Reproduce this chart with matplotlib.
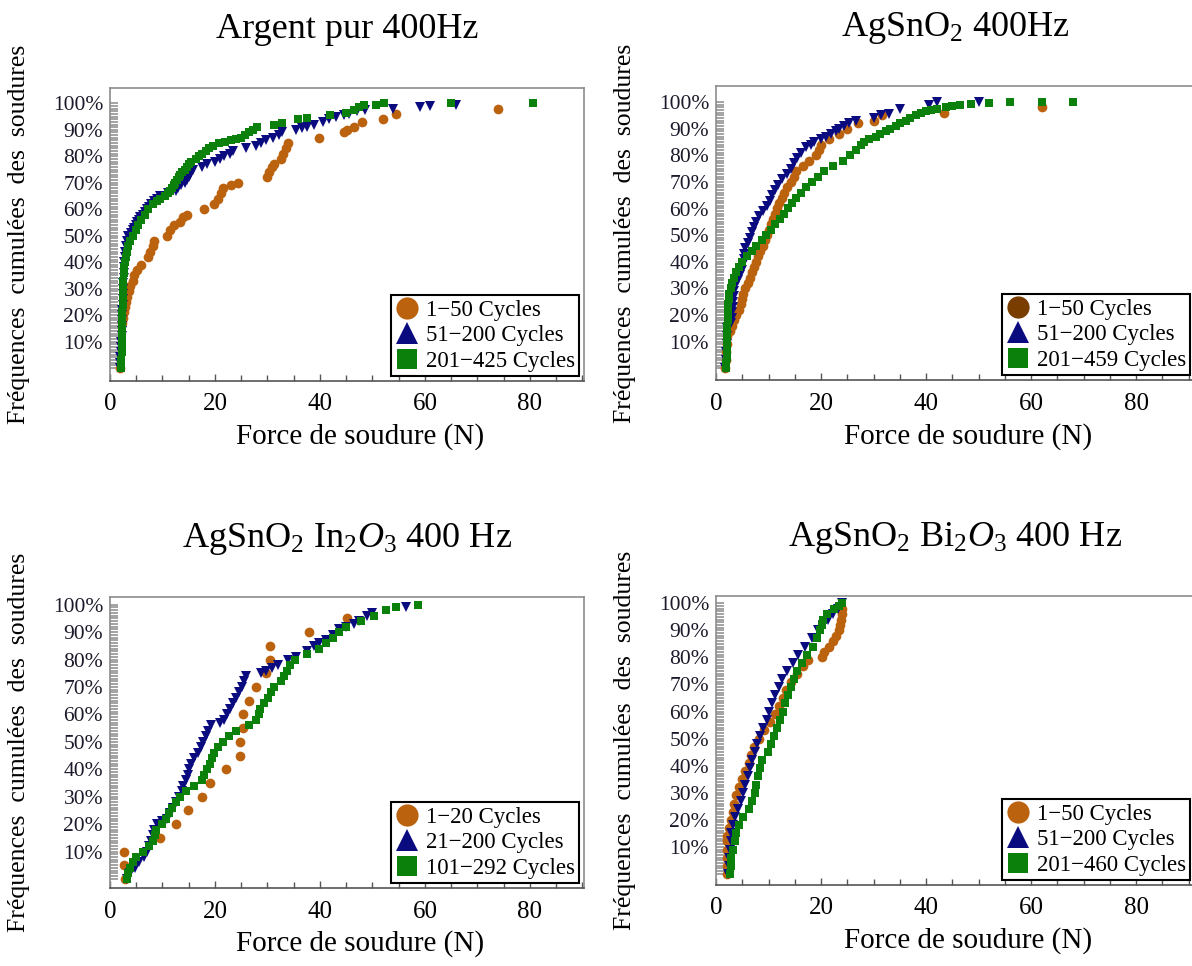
import matplotlib
matplotlib.use("Agg")
import matplotlib.pyplot as plt
from matplotlib.lines import Line2D
from matplotlib.ticker import FixedLocator, MultipleLocator

plt.rcParams['font.family'] = ['Liberation Serif', 'DejaVu Serif']
plt.rcParams['mathtext.fontset'] = 'custom'
plt.rcParams['mathtext.rm'] = 'Liberation Serif'
plt.rcParams['mathtext.it'] = 'Liberation Serif:italic'

# ---- Argent pur 400Hz ----
ag_x1 = [2.0, 2.3, 2.5, 2.7, 2.9, 3.1, 3.3, 3.6, 3.9, 4.3, 4.6, 5.2, 5.9, 7.2, 7.7, 8.1, 8.4, 10.9, 11.5, 12.1,
         13.4, 14.0, 14.7, 18.0, 19.8, 20.5, 21.2, 21.6, 23.0, 24.3, 30.0, 30.3, 30.8, 31.2, 32.6, 33.0, 33.5, 34.0,
         39.8, 44.6, 45.2, 46.5, 48.0, 52.0, 54.5, 74.0]
ag_y1 = [0, 17, 19, 21, 23, 25, 27, 29, 31, 33, 35, 37, 39, 42, 44, 46, 48, 50, 52, 54,
         55, 57, 58, 60, 62, 64, 66, 68, 69, 70, 72, 74, 76, 77, 79, 81, 83, 85,
         87, 89, 90, 91, 93, 94, 96, 98]
ag_x2 = [2.0, 2.0, 2.0, 2.1, 2.1, 2.1, 2.2, 2.2, 2.2, 2.3, 2.3, 2.3, 2.4, 2.4, 2.4, 2.5, 2.5, 2.6, 2.6, 2.7,
         2.7, 2.8, 2.9, 3.0, 3.2, 3.5, 4.0, 4.3, 4.6, 4.9, 5.2, 5.5, 5.8, 6.2, 6.6, 7.0, 7.4, 7.9, 8.4, 9.0,
         9.6, 11.0, 12.5, 13.0, 13.5, 14.2, 14.7, 15.0, 15.3, 15.5, 15.8, 17.5, 18.5, 20.0, 21.0, 21.8, 22.8, 23.5,
         26.0, 27.8, 28.8, 29.8, 31.0, 32.2, 32.8, 35.5, 36.5, 37.5, 38.8, 40.5, 41.8, 43.0, 44.5, 45.5, 47.0, 48.5,
         54.0, 59.0, 61.0, 66.0]
ag_y2 = [0, 2, 4, 6, 8, 10, 12, 14, 16, 18, 20, 22, 24, 26, 28, 30, 32, 34, 36, 38,
         40, 42, 44, 46, 48, 50, 51, 52, 53, 54, 55, 56, 57, 58, 59, 60, 61, 62, 63, 64,
         65, 66, 67, 68, 69, 70, 71, 72, 73, 74, 75, 76, 77, 78, 79, 80, 81, 82,
         83, 84, 85, 86, 87, 88, 89, 90, 90.5, 91, 92, 93, 94, 95, 95.5, 96, 97, 97.5,
         98, 98.5, 99, 99.5]
ag_x3 = [2.1, 2.1, 2.2, 2.2, 2.2, 2.3, 2.3, 2.3, 2.4, 2.4, 2.5, 2.5, 2.6, 2.7, 2.8, 3.0, 3.2, 3.5, 3.9, 4.3,
         4.9, 5.4, 6.0, 6.6, 7.3, 8.2, 9.0, 9.6, 10.5, 11.0, 11.4, 11.8, 12.1, 12.4, 12.8, 13.1, 13.4, 13.8, 14.2,
         14.6, 15.0, 15.5, 16.3, 17.0, 17.6, 18.2, 18.8, 19.7, 20.8, 22.0, 23.0, 24.0, 25.0, 25.8, 26.5, 27.3,
         28.0, 31.2, 32.8, 35.9, 37.5, 42.0, 45.0, 46.4, 47.4, 48.3, 50.6, 52.2, 65.0, 80.5]
ag_y3 = [0, 3, 6, 9, 12, 15, 18, 21, 24, 27, 30, 33, 36, 38, 40, 42, 44, 46, 48, 50,
         52, 54, 56, 58, 60, 62, 63, 64, 65, 66, 67, 68, 69, 70, 71, 72, 73, 74, 75,
         76, 77, 78, 79, 80, 81, 82, 83, 84, 85, 85.5, 86, 86.5, 87, 88, 89, 90,
         91, 92, 92.5, 94, 94.5, 95.5, 96.5, 97.5, 98.5, 99.5, 99.5, 100, 100, 100]

# ---- AgSnO2 400Hz ----
sn_x1 = [1.8, 1.9, 1.9, 2.0, 2.1, 2.6, 3.0, 3.4, 3.9, 4.3, 4.7, 5.0, 5.2, 5.6, 6.0, 6.4, 6.9, 7.2, 7.6, 8.0,
         8.4, 9.0, 9.4, 9.8, 10.1, 10.5, 10.9, 11.3, 11.6, 12.0, 12.5, 13.0, 13.6, 14.2, 14.8, 15.3, 16.6, 17.8,
         19.0, 19.6, 20.0, 21.5, 23.5, 25.0, 27.0, 30.0, 31.7, 43.5, 62.0]
sn_y1 = [0, 3, 6, 9, 12, 14, 16, 18, 20, 22, 24, 26, 28, 30, 32, 34, 36, 38, 40, 42,
         44, 46, 48, 50, 52, 54, 56, 58, 60, 62, 64, 66, 68, 70, 72, 74, 76, 78,
         80, 82, 84, 86, 88, 90, 92, 93, 95, 96, 98]
sn_x2 = [1.8, 1.9, 1.9, 2.0, 2.0, 2.1, 2.8, 3.0, 3.1, 3.2, 3.3, 3.4, 3.5, 3.7, 4.1, 4.6, 5.0, 5.1, 5.3, 5.4,
         5.6, 6.0, 6.4, 6.8, 7.2, 7.6, 8.1, 9.0, 9.7, 10.2, 10.7, 11.2, 11.8, 12.5, 13.5, 14.2, 14.8, 15.4, 16.2,
         17.2, 18.0, 18.7, 20.0, 21.0, 21.9, 22.8, 23.5, 24.3, 25.4, 26.6, 30.0, 31.5, 33.0, 35.0, 40.5, 42.0, 50.0]
sn_y2 = [0, 3, 6, 9, 12, 15, 17, 19, 21, 23, 25, 27, 29, 31, 33, 35, 37, 39, 41, 43,
         45, 47, 49, 51, 53, 55, 57, 59, 61, 63, 65, 67, 69, 71, 73, 75, 77, 79, 81,
         83, 84, 85, 86, 87, 88, 89, 90, 91, 92, 93, 94, 95, 95.5, 97.5, 99, 100, 100]
sn_x3 = [1.9, 1.9, 2.0, 2.0, 2.0, 2.0, 2.1, 2.1, 2.1, 2.2, 2.2, 2.2, 2.3, 2.4, 2.5, 2.8, 3.1, 3.4, 3.8, 4.3,
         5.0, 5.9, 6.8, 7.7, 8.7, 9.6, 10.5, 11.3, 12.2, 13.0, 13.8, 14.5, 15.2, 16.2, 17.2, 18.3, 19.4, 20.6,
         22.2, 24.2, 25.6, 26.6, 27.6, 28.2, 29.2, 30.4, 31.3, 32.3, 33.2, 34.2, 35.1, 36.1, 37.0, 38.0, 39.0,
         40.0, 41.0, 42.0, 43.7, 45.0, 46.5, 48.5, 52.0, 56.0, 62.0, 68.0]
sn_y3 = [0, 2, 4, 6, 8, 10, 12, 14, 16, 18, 20, 22, 24, 26, 28, 30, 32, 34, 36, 38,
         40, 42, 44, 46, 48, 50, 52, 54, 56, 58, 60, 62, 64, 66, 68, 70, 72, 74,
         76, 78, 80, 82, 84, 85, 86, 87, 88, 89, 90, 91, 92, 93, 94, 95, 96,
         96.5, 97, 97.5, 98, 98.5, 99, 99.3, 99.6, 100, 100, 100]

# ---- AgSnO2 In2O3 400 Hz ----
in_x1 = [2.9, 2.7, 2.7, 9.5, 12.6, 14.9, 17.5, 19.1, 22.1, 24.7, 24.7, 25.4, 25.4, 26.5, 27.8, 29.8, 30.4, 30.4,
         38.0, 45.2]
in_y1 = [0, 5, 10, 15, 20, 25, 30, 35, 40, 45, 50, 55, 60, 65, 70, 75, 80, 85, 90, 95]
in_x2 = [3.2, 3.8, 4.7, 5.6, 6.5, 7.0, 7.5, 7.8, 8.1, 8.4, 8.9, 10.0, 10.8, 11.5, 12.0, 12.6, 13.2, 13.7, 14.0,
         14.4, 14.8, 15.1, 15.5, 16.0, 16.8, 17.3, 17.8, 18.2, 18.6, 19.3, 21.0, 21.8, 22.3, 22.9, 23.5, 24.0, 24.6,
         25.1, 25.5, 26.0, 28.8, 29.8, 30.8, 32.0, 34.0, 35.5, 37.5, 38.8, 39.8, 41.2, 42.5, 43.7, 45.0, 46.5, 47.5,
         49.0, 50.0, 56.4]
in_y2 = [0, 2, 4, 6, 8, 10, 12, 14, 16, 18, 20, 21, 22, 24, 26, 28, 30, 32, 34,
         36, 38, 40, 42, 44, 46, 48, 50, 52, 54, 56, 57, 58, 60, 62, 64, 66, 68,
         70, 72, 74, 75, 76, 77, 78, 80, 81, 83, 85, 86, 87, 89, 91, 92, 93, 94,
         96, 97, 99]
in_x3 = [3.2, 3.5, 3.8, 4.4, 5.0, 6.2, 7.4, 8.2, 8.5, 8.8, 9.9, 10.6, 11.2, 11.9, 12.6, 13.4, 14.5, 16.0, 17.6,
         18.0, 18.4, 19.0, 19.4, 19.8, 20.6, 21.6, 22.7, 24.0, 26.5, 27.9, 28.3, 28.6, 29.4, 30.1, 30.7, 31.2, 32.5,
         33.2, 33.8, 34.2, 35.2, 37.5, 39.8, 41.2, 42.5, 43.6, 45.0, 47.8, 50.2, 52.6, 54.5, 58.6]
in_y3 = [0, 2, 4, 6, 8, 10, 12, 14, 16, 18, 20, 22, 24, 26, 28, 30, 32, 34, 36,
         38, 40, 42, 44, 46, 48, 50, 52, 54, 56, 58, 60, 62, 64, 66, 68, 70, 72,
         74, 76, 78, 80, 82, 84, 86, 88, 90, 92, 94, 96, 98, 99, 100]

# ---- AgSnO2 Bi2O3 400 Hz ----
bi_x1 = [2.1, 2.1, 2.1, 2.0, 2.0, 2.1, 2.5, 2.8, 3.2, 3.5, 3.8, 4.3, 5.0, 5.6, 6.2, 6.6, 7.3, 8.2, 9.2, 10.2,
         11.2, 12.0, 12.8, 13.4, 14.2, 15.4, 16.6, 17.6, 20.1, 20.6, 21.5, 22.2, 22.8, 23.4, 23.7, 23.8, 23.9, 24.0]
bi_y1 = [0, 3, 6, 9, 12, 14, 17, 20, 23, 26, 29, 32, 35, 38, 41, 44, 47, 50, 53, 56,
         59, 62, 65, 68, 71, 74, 77, 79, 80, 82, 84, 86, 88, 90, 92, 94, 96, 98]
bi_x2 = [2.3, 2.4, 2.5, 2.7, 2.8, 2.9, 3.2, 3.6, 4.1, 4.7, 5.1, 5.5, 6.0, 6.5, 6.9, 7.4, 7.9, 8.4, 9.0, 9.7,
         10.1, 10.6, 11.2, 11.9, 12.6, 13.6, 14.6, 15.6, 17.0, 18.3, 19.5, 20.4, 21.4, 22.3, 23.2, 24.0]
bi_y2 = [0, 3, 6, 9, 12, 15, 18, 21, 24, 27, 30, 33, 36, 39, 42, 45, 48, 51, 54, 57,
         60, 63, 66, 69, 72, 75, 78, 81, 84, 87, 90, 92, 94, 96, 98, 100]
bi_x3 = [2.7, 2.8, 2.9, 3.2, 3.6, 3.9, 4.3, 5.2, 6.2, 6.9, 7.4, 7.7, 8.0, 8.4, 8.8, 9.9, 10.5, 11.1, 11.6, 12.2,
         12.7, 13.1, 13.7, 14.3, 14.8, 15.4, 16.4, 17.3, 18.4, 19.2, 19.8, 20.1, 20.4, 21.2, 22.5, 23.4, 24.0]
bi_y3 = [0, 3, 6, 9, 12, 15, 18, 21, 24, 27, 30, 33, 36, 39, 42, 45, 48, 51, 54, 57,
         60, 63, 66, 69, 72, 75, 78, 81, 84, 87, 90, 92, 94, 96, 98, 99, 100]

titles = ["Argent pur 400Hz", "AgSnO$_2$ 400Hz",
          "AgSnO$_2$ In$_2$$\\mathit{O}_3$ 400 Hz", "AgSnO$_2$ Bi$_2$$\\mathit{O}_3$ 400 Hz"]
labels = [["1\u221250 Cycles", "51\u2212200 Cycles", "201\u2212425 Cycles"],
          ["1\u221250 Cycles", "51\u2212200 Cycles", "201\u2212459 Cycles"],
          ["1\u221220 Cycles", "21\u2212200 Cycles", "101\u2212292 Cycles"],
          ["1\u221250 Cycles", "51\u2212200 Cycles", "201\u2212460 Cycles"]]
ytick_vals = [10, 20, 30, 40, 50, 60, 70, 80, 90, 100]
xtick_vals = [0, 20, 40, 60, 80]

series = [[(ag_x1, ag_y1), (ag_x2, ag_y2), (ag_x3, ag_y3)],
          [(sn_x1, sn_y1), (sn_x2, sn_y2), (sn_x3, sn_y3)],
          [(in_x1, in_y1), (in_x2, in_y2), (in_x3, in_y3)],
          [(bi_x1, bi_y1), (bi_x2, bi_y2), (bi_x3, bi_y3)]]

ORANGE = '#bb620f'
BLUE = '#0b0b80'
GREEN = '#0b800b'
legend_circle = [ORANGE, '#7a3d00', ORANGE, ORANGE]

W, H = 1192, 966
# frame boxes in pixels: left, top, right, bottom
boxes = [(110, 88, 584, 381), (716, 86, 1195, 380),
         (110, 597, 584, 888), (716, 596, 1195, 885)]
ylims = [(-4.9, 105.8), (-4.4, 106.0), (-3.3, 102.8), (-4.1, 102.7)]
xlims = [(0, 90.3), (0, 91.2), (0, 90.3), (0, 91.2)]

fig = plt.figure(figsize=(W / 100, H / 100), dpi=100)

for k in range(4):
    l, t, r, b = boxes[k]
    ax = fig.add_axes([l / W, 1 - b / H, (r - l) / W, (b - t) / H])
    (x1, y1), (x2, y2), (x3, y3) = series[k]
    ax.plot(x1, y1, 'o', color=ORANGE, ms=7, mew=0, zorder=3)
    ax.plot(x2, y2, 'v', color=BLUE, ms=7.5, mew=0, zorder=4)
    ax.plot(x3, y3, 's', color=GREEN, ms=6.2, mew=0, zorder=5)
    ax.set_xlim(*xlims[k])
    ax.set_ylim(*ylims[k])

    ax.yaxis.set_major_locator(FixedLocator(ytick_vals))
    ax.set_yticklabels([f"{v}%" for v in ytick_vals])
    ax.yaxis.set_minor_locator(FixedLocator(list(range(0, 101))))
    ax.xaxis.set_major_locator(FixedLocator(xtick_vals))
    ax.xaxis.set_minor_locator(MultipleLocator(5))

    ax.tick_params(axis='y', which='both', direction='in', length=6, width=1.1,
                   color='#8a8a8a', right=False)
    ax.tick_params(axis='y', which='major', labelsize=15.5, pad=5, labelcolor='#1a1a2a')
    ax.tick_params(axis='x', which='major', direction='in', length=5, width=1,
                   color='#555555', labelsize=18, pad=9, top=False)
    ax.tick_params(axis='x', which='minor', direction='in', length=4, width=1,
                   color='#555555', top=False)

    for side in ['left', 'top', 'right']:
        ax.spines[side].set_color('#8c8c8c')
        ax.spines[side].set_linewidth(1.2)
    ax.spines['bottom'].set_color('#555555')
    ax.spines['bottom'].set_linewidth(1.2)

    ax.set_title(titles[k], fontsize=26, pad=36)
    ax.set_xlabel("Force de soudure (N)", fontsize=21)
    ax.xaxis.set_label_coords(0.527, -0.145)
    ax.set_ylabel("Fréquences  cumulées  des  soudures", fontsize=18.5)
    ax.yaxis.set_label_coords(-0.168, 0.5)

    handles = [Line2D([], [], ls='none', marker='o', color=legend_circle[k], ms=16, mew=0),
               Line2D([], [], ls='none', marker='^', color=BLUE, ms=16, mew=0),
               Line2D([], [], ls='none', marker='s', color=GREEN, ms=15, mew=0)]
    leg = ax.legend(handles, labels[k], loc='lower right', fontsize=16.5, frameon=True,
                    fancybox=False, edgecolor='black', framealpha=1, borderpad=0.2,
                    handlelength=1.0, handletextpad=0.3, labelspacing=0.2,
                    borderaxespad=0.2)
    leg.get_frame().set_linewidth(1.5)

fig.savefig("out.png", dpi=100)
